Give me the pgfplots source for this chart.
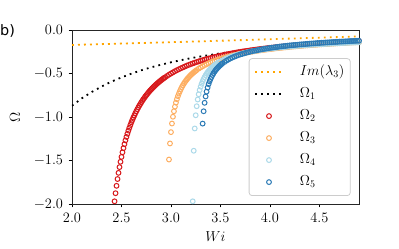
\documentclass[border=0pt]{standalone}
\usepackage{fontspec}
\newfontfamily\dejavu{DejaVu Sans}
\usepackage{pgfplots}
\pgfplotsset{compat=1.18}
\definecolor{cRed}{HTML}{D7191C}
\definecolor{cOr}{HTML}{FDAE61}
\definecolor{cLb}{HTML}{ABD9E9}
\definecolor{cBl}{HTML}{2C7BB6}
\definecolor{cDot}{HTML}{FFA500}
\begin{document}
\begin{tikzpicture}
\useasboundingbox (0,0) rectangle (399pt,249pt);
\node[anchor=base west, inner sep=0pt, font=\dejavu\Large] at (0pt,213pt) {b)};
\begin{axis}[
 at={(72pt,45pt)}, anchor=south west, scale only axis, width=287pt, height=174pt,
 xmin=2, xmax=4.9, ymin=-2, ymax=0,
 xtick={2,2.5,3,3.5,4,4.5}, ytick={-2,-1.5,-1,-0.5,0},
 xticklabels={$2.0$,$2.5$,$3.0$,$3.5$,$4.0$,$4.5$},
 yticklabels={$-2.0$,$-1.5$,$-1.0$,$-0.5$,$0.0$},
 tick pos=left, tick align=outside, major tick length=3.5pt,
 tick style={black, line width=0.8pt},
 axis line style={black!85, line width=0.8pt},
 xticklabel style={font=\Large, yshift=-2pt},
 yticklabel style={font=\Large, xshift=-2pt},
 xlabel={$Wi$}, ylabel={$\Omega$},
 xlabel style={at={(axis description cs:0.5,-0.19)}, anchor=center, font=\Large},
 ylabel style={at={(axis description cs:-0.199,0.5)}, anchor=center, font=\Large},
 legend style={at={(0.971,0.046)}, anchor=south east, font=\Large, draw=black!20, line width=0.8pt, rounded corners=3pt, fill=white, fill opacity=0.8, text opacity=1, inner xsep=5pt, inner ysep=5pt, row sep=5pt, column sep=15pt, nodes={inner sep=1pt, text height=11pt, text depth=4pt}},
 legend cell align=left,
 legend image code/.code={\draw[mark repeat=2,mark phase=2,#1] plot coordinates {(0pt,0pt) (14pt,0pt) (28pt,0pt)};},
 every axis plot/.append style={mark options={line width=1pt}},
]
\addplot[cDot, line width=1.8pt, dash pattern=on 1.8pt off 4.2pt] coordinates {(2.0,-0.172)(2.25,-0.164)(2.5,-0.156)(2.75,-0.148)(3.0,-0.140)(3.25,-0.132)(3.5,-0.123)(3.75,-0.115)(4.0,-0.106)(4.25,-0.097)(4.5,-0.088)(4.75,-0.079)(4.9,-0.074)};
\addlegendentry{$Im(\lambda_3)$}
\addplot[black, line width=1.8pt, dash pattern=on 1.8pt off 4.2pt] coordinates {(2.0,-0.870)(2.1,-0.785)(2.2,-0.712)(2.3,-0.649)(2.4,-0.593)(2.5,-0.545)(2.6,-0.502)(2.7,-0.463)(2.8,-0.429)(2.9,-0.399)(3.0,-0.371)(3.1,-0.347)(3.2,-0.324)(3.3,-0.304)(3.4,-0.286)(3.5,-0.269)(3.6,-0.253)(3.7,-0.239)(3.8,-0.226)(3.9,-0.214)(4.0,-0.203)(4.1,-0.193)(4.2,-0.183)(4.3,-0.174)(4.4,-0.166)(4.5,-0.159)(4.6,-0.151)(4.7,-0.145)(4.8,-0.138)(4.9,-0.133)};
\addlegendentry{$\Omega_1$}
\addplot[only marks, mark=o, mark size=2.4pt, cRed, line width=1pt] coordinates {(2.43,-1.969)(2.44,-1.876)(2.45,-1.791)(2.46,-1.713)(2.47,-1.642)(2.48,-1.576)(2.49,-1.515)(2.50,-1.459)(2.51,-1.406)(2.52,-1.358)(2.53,-1.312)(2.54,-1.269)(2.55,-1.229)(2.56,-1.192)(2.57,-1.156)(2.58,-1.123)(2.59,-1.091)(2.60,-1.061)(2.61,-1.033)(2.62,-1.006)(2.63,-0.981)(2.64,-0.956)(2.65,-0.933)(2.66,-0.911)(2.67,-0.890)(2.68,-0.870)(2.69,-0.851)(2.70,-0.832)(2.71,-0.814)(2.72,-0.797)(2.73,-0.781)(2.74,-0.765)(2.75,-0.750)(2.76,-0.736)(2.77,-0.722)(2.78,-0.708)(2.79,-0.695)(2.80,-0.683)(2.81,-0.671)(2.82,-0.659)(2.83,-0.648)(2.84,-0.637)(2.85,-0.626)(2.86,-0.616)(2.87,-0.606)(2.88,-0.596)(2.89,-0.587)(2.90,-0.578)(2.91,-0.569)(2.92,-0.560)(2.93,-0.552)(2.94,-0.544)
(2.96,-0.529)(2.98,-0.514)(3.00,-0.500)(3.02,-0.487)(3.04,-0.474)(3.06,-0.462)(3.08,-0.451)(3.10,-0.440)(3.12,-0.430)(3.14,-0.420)(3.16,-0.410)(3.18,-0.401)(3.20,-0.392)(3.22,-0.384)(3.24,-0.376)(3.26,-0.368)(3.28,-0.361)(3.30,-0.354)(3.32,-0.347)(3.34,-0.340)(3.36,-0.334)(3.38,-0.328)(3.40,-0.322)(3.42,-0.316)(3.44,-0.310)(3.46,-0.305)(3.48,-0.300)(3.50,-0.295)(3.52,-0.290)(3.54,-0.285)(3.56,-0.280)(3.58,-0.276)(3.60,-0.272)(3.62,-0.267)(3.64,-0.263)(3.66,-0.259)(3.68,-0.255)(3.70,-0.252)(3.72,-0.248)(3.74,-0.244)(3.76,-0.241)(3.78,-0.238)(3.80,-0.234)(3.82,-0.231)(3.84,-0.228)(3.86,-0.225)(3.88,-0.222)(3.90,-0.219)(3.92,-0.216)(3.94,-0.213)(3.96,-0.211)(3.98,-0.208)(4.00,-0.205)(4.02,-0.203)(4.04,-0.201)(4.06,-0.198)(4.08,-0.196)(4.10,-0.193)(4.12,-0.191)(4.14,-0.189)(4.16,-0.187)(4.18,-0.185)(4.20,-0.183)(4.22,-0.181)(4.24,-0.179)(4.26,-0.177)(4.28,-0.175)(4.30,-0.173)(4.32,-0.171)(4.34,-0.169)(4.36,-0.167)(4.38,-0.166)(4.40,-0.164)(4.42,-0.162)(4.44,-0.161)(4.46,-0.159)(4.48,-0.157)(4.50,-0.156)(4.52,-0.154)(4.54,-0.153)(4.56,-0.151)(4.58,-0.150)(4.60,-0.148)(4.62,-0.147)(4.64,-0.146)(4.66,-0.144)(4.68,-0.143)(4.70,-0.142)(4.72,-0.140)(4.74,-0.139)(4.76,-0.138)(4.78,-0.137)(4.80,-0.135)(4.82,-0.134)(4.84,-0.133)(4.86,-0.132)(4.88,-0.131)(4.90,-0.130)};
\addlegendentry{$\Omega_2$}
\addplot[only marks, mark=o, mark size=2.4pt, cOr, line width=1pt] coordinates {(2.98,-1.489)(2.99,-1.304)(3.00,-1.174)(3.01,-1.075)(3.02,-0.997)(3.03,-0.934)(3.04,-0.881)(3.05,-0.835)(3.06,-0.796)(3.07,-0.761)(3.08,-0.731)(3.09,-0.704)(3.10,-0.679)(3.11,-0.656)(3.12,-0.636)(3.13,-0.617)(3.14,-0.600)(3.15,-0.584)(3.16,-0.569)(3.17,-0.555)(3.18,-0.542)(3.19,-0.529)(3.20,-0.518)(3.21,-0.507)(3.22,-0.497)(3.23,-0.487)(3.24,-0.477)(3.25,-0.469)(3.26,-0.460)
(3.28,-0.444)(3.30,-0.430)(3.32,-0.417)(3.34,-0.404)(3.36,-0.393)(3.38,-0.382)(3.40,-0.372)(3.42,-0.363)(3.44,-0.354)(3.46,-0.346)(3.48,-0.338)(3.50,-0.331)(3.52,-0.324)(3.54,-0.317)(3.56,-0.311)(3.58,-0.305)(3.60,-0.299)(3.62,-0.294)(3.64,-0.289)(3.66,-0.283)(3.68,-0.278)(3.70,-0.273)(3.72,-0.269)(3.74,-0.265)(3.76,-0.261)(3.78,-0.256)(3.80,-0.252)(3.82,-0.249)(3.84,-0.245)(3.86,-0.242)(3.88,-0.238)(3.90,-0.234)(3.92,-0.231)(3.94,-0.228)(3.96,-0.225)(3.98,-0.222)(4.00,-0.219)(4.02,-0.217)(4.04,-0.214)(4.06,-0.211)(4.08,-0.209)(4.10,-0.206)(4.12,-0.204)(4.14,-0.201)(4.16,-0.199)(4.18,-0.197)(4.20,-0.194)(4.22,-0.192)(4.24,-0.190)(4.26,-0.188)(4.28,-0.186)(4.30,-0.184)(4.32,-0.182)(4.34,-0.180)(4.36,-0.178)(4.38,-0.177)(4.40,-0.175)(4.42,-0.173)(4.44,-0.171)(4.46,-0.170)(4.48,-0.168)(4.50,-0.166)(4.52,-0.165)(4.54,-0.163)(4.56,-0.162)(4.58,-0.160)(4.60,-0.159)(4.62,-0.157)(4.64,-0.156)(4.66,-0.155)(4.68,-0.153)(4.70,-0.152)(4.72,-0.150)(4.74,-0.149)(4.76,-0.148)(4.78,-0.147)(4.80,-0.145)(4.82,-0.144)(4.84,-0.143)(4.86,-0.142)(4.88,-0.141)(4.90,-0.140)};
\addlegendentry{$\Omega_3$}
\addplot[only marks, mark=o, mark size=2.4pt, cLb, line width=1pt] coordinates {(3.22,-1.969)(3.23,-1.388)(3.24,-1.132)(3.25,-0.980)(3.26,-0.876)(3.27,-0.799)(3.28,-0.739)(3.29,-0.691)(3.30,-0.651)(3.31,-0.618)(3.32,-0.589)(3.33,-0.563)(3.34,-0.541)(3.35,-0.521)(3.36,-0.503)(3.37,-0.487)(3.38,-0.472)(3.39,-0.459)(3.40,-0.446)(3.41,-0.435)(3.42,-0.424)(3.43,-0.414)(3.44,-0.405)(3.45,-0.396)(3.46,-0.388)
(3.48,-0.373)(3.50,-0.360)(3.52,-0.348)(3.54,-0.337)(3.56,-0.327)(3.58,-0.318)(3.60,-0.309)(3.62,-0.302)(3.64,-0.295)(3.66,-0.288)(3.68,-0.282)(3.70,-0.275)(3.72,-0.270)(3.74,-0.265)(3.76,-0.259)(3.78,-0.254)(3.80,-0.249)(3.82,-0.245)(3.84,-0.241)(3.86,-0.238)(3.88,-0.234)(3.90,-0.230)(3.92,-0.226)(3.94,-0.223)(3.96,-0.220)(3.98,-0.217)(4.00,-0.214)(4.02,-0.211)(4.04,-0.209)(4.06,-0.206)(4.08,-0.203)(4.10,-0.201)(4.12,-0.198)(4.14,-0.196)(4.16,-0.194)(4.18,-0.192)(4.20,-0.190)(4.22,-0.188)(4.24,-0.186)(4.26,-0.184)(4.28,-0.182)(4.30,-0.180)(4.32,-0.178)(4.34,-0.177)(4.36,-0.175)(4.38,-0.173)(4.40,-0.172)(4.42,-0.170)(4.44,-0.169)(4.46,-0.167)(4.48,-0.166)(4.50,-0.164)(4.52,-0.163)(4.54,-0.162)(4.56,-0.160)(4.58,-0.159)(4.60,-0.158)(4.62,-0.156)(4.64,-0.155)(4.66,-0.154)(4.68,-0.153)(4.70,-0.152)(4.72,-0.150)(4.74,-0.149)(4.76,-0.148)(4.78,-0.147)(4.80,-0.146)(4.82,-0.145)(4.84,-0.144)(4.86,-0.143)(4.88,-0.142)(4.90,-0.141)};
\addlegendentry{$\Omega_4$}
\addplot[only marks, mark=o, mark size=2.4pt, cBl, line width=1pt] coordinates {(3.32,-1.076)(3.33,-0.934)(3.34,-0.837)(3.35,-0.764)(3.36,-0.708)(3.37,-0.662)(3.38,-0.623)(3.39,-0.591)(3.40,-0.563)(3.41,-0.539)(3.42,-0.517)(3.43,-0.498)(3.44,-0.480)(3.45,-0.464)(3.46,-0.450)(3.47,-0.437)(3.48,-0.425)(3.49,-0.413)(3.50,-0.403)(3.51,-0.393)(3.52,-0.384)
(3.54,-0.368)(3.56,-0.353)(3.58,-0.340)(3.60,-0.328)(3.62,-0.317)(3.64,-0.307)(3.66,-0.298)(3.68,-0.289)(3.70,-0.281)(3.72,-0.275)(3.74,-0.268)(3.76,-0.262)(3.78,-0.256)(3.80,-0.249)(3.82,-0.244)(3.84,-0.239)(3.86,-0.235)(3.88,-0.230)(3.90,-0.225)(3.92,-0.221)(3.94,-0.217)(3.96,-0.214)(3.98,-0.210)(4.00,-0.206)(4.02,-0.203)(4.04,-0.200)(4.06,-0.197)(4.08,-0.194)(4.10,-0.190)(4.12,-0.188)(4.14,-0.185)(4.16,-0.183)(4.18,-0.180)(4.20,-0.177)(4.22,-0.175)(4.24,-0.173)(4.26,-0.171)(4.28,-0.169)(4.30,-0.166)(4.32,-0.165)(4.34,-0.163)(4.36,-0.161)(4.38,-0.159)(4.40,-0.157)(4.42,-0.155)(4.44,-0.154)(4.46,-0.152)(4.48,-0.150)(4.50,-0.149)(4.52,-0.147)(4.54,-0.146)(4.56,-0.144)(4.58,-0.143)(4.60,-0.141)(4.62,-0.140)(4.64,-0.138)(4.66,-0.137)(4.68,-0.136)(4.70,-0.134)(4.72,-0.133)(4.74,-0.132)(4.76,-0.131)(4.78,-0.130)(4.80,-0.128)(4.82,-0.127)(4.84,-0.126)(4.86,-0.125)(4.88,-0.124)(4.90,-0.123)};
\addlegendentry{$\Omega_5$}
\end{axis}
\end{tikzpicture}
\end{document}
